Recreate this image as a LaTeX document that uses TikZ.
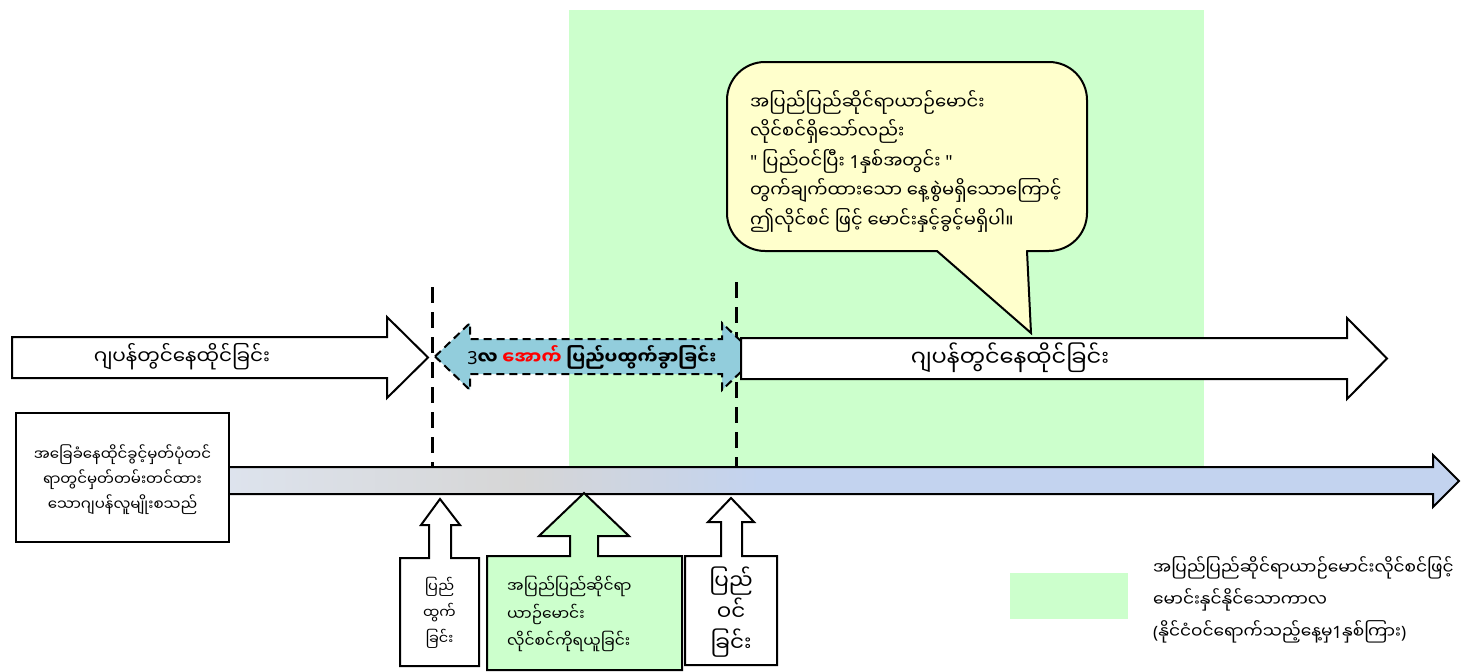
\documentclass[tikz,border=0pt]{standalone}
\usepackage{fontspec}
\setmainfont{Noto Sans Myanmar UI}[Script=Myanmar]
\newfontfamily\lat{Noto Sans}
\definecolor{bggreen}{HTML}{CCFFCC}
\definecolor{bubbleyellow}{HTML}{FFFFCC}
\definecolor{arrowblue}{HTML}{92CDDC}
\definecolor{tlA}{HTML}{DDE3ED}
\definecolor{tlB}{HTML}{D6D6D6}
\definecolor{tlC}{HTML}{C3D3EF}
\definecolor{txtred}{HTML}{FF0000}
\begin{document}
\begin{tikzpicture}[x=1pt,y=-1pt,
  outl/.style={draw=black,line width=2pt,line join=miter},
  guide/.style={draw=black,line width=3pt,dash pattern=on 16pt off 9pt},
  dashedarrow/.style={draw=black,line width=2pt,dash pattern=on 8pt off 5pt,fill=arrowblue},
  lbl/.style={inner sep=0pt,text=black},
]
\useasboundingbox (0,0) rectangle (1473,672);
\fill[white] (0,0) rectangle (1473,672);

% green period background
\fill[bggreen] (569,10) rectangle (1204,468);

% speech bubble
\filldraw[fill=bubbleyellow,draw=black,line width=2pt,rounded corners=38pt] (727,62) rectangle (1087,251);
\fill[bubbleyellow] (938.5,249.5) -- (1025.5,249.5) -- (1027,252) -- (1031,333) -- (937,252) -- cycle;
\draw[line width=2pt,line join=miter,miter limit=20] (937,251) -- (1031,333) -- (1027,251);
\node[lbl,anchor=west,align=left,font={\fontsize{18}{29.5}\selectfont}] (bubbletxt) at (750,161)
 {အပြည်ပြည်ဆိုင်ရာယာဉ်မောင်း\\
  လိုင်စင်ရှိသော်လည်း\\
  {\lat"} ပြည်ဝင်ပြီး {\lat 1}နှစ်အတွင်း {\lat"}\\
  တွက်ချက်ထားသော နေ့စွဲမရှိသောကြောင့်\\
  ဤလိုင်စင် ဖြင့် မောင်းနှင့်ခွင့်မရှိပါ။};

% dashed guide lines
\coordinate (g1a) at (432,287); \coordinate (g1b) at (432,468);
\coordinate (g2a) at (736,282); \coordinate (g2b) at (736,468);
\draw[guide] (g1a) -- (g1b);
\draw[guide] (g2a) -- (g2b);

% left white arrow
\filldraw[outl,fill=white] (12,337) -- (387,337) -- (387,317) -- (428,357.5) -- (387,398) -- (387,378) -- (12,378) -- cycle;
\node[lbl,font={\fontsize{20}{24}\selectfont}] (liveA) at (182,357) {ဂျပန်တွင်နေထိုင်ခြင်း};

% blue dashed double arrow
\filldraw[dashedarrow] (435,356.5) -- (470,323) -- (470,339) -- (722,339) -- (722,323) -- (757,356.5) -- (722,390) -- (722,374) -- (470,374) -- (470,390) -- cycle;
\node[lbl,font={\fontsize{18}{22}\selectfont\bfseries}] (abroad) at (592,357) {{\lat 3}လ \textcolor{txtred}{အောက်} ပြည်ပထွက်ခွာခြင်း};

% right white arrow
\filldraw[outl,fill=white] (741,338) -- (1347,338) -- (1347,318) -- (1387,358.5) -- (1347,399) -- (1347,379) -- (741,379) -- cycle;
\node[lbl,font={\fontsize{22.5}{26}\selectfont}] (liveB) at (1010,358) {ဂျပန်တွင်နေထိုင်ခြင်း};

% timeline bar
\shade[left color=tlA,right color=tlB] (229,467) rectangle (520,494);
\shade[left color=tlB,right color=tlC] (519.5,467) rectangle (760,494);
\fill[tlC] (759.5,467) rectangle (1434,494);
\fill[tlC] (1433,455) -- (1459,481) -- (1433,507) -- cycle;
\draw[outl] (229,467) -- (1433,467) -- (1433,455) -- (1459,481) -- (1433,507) -- (1433,494) -- (229,494);

% left box
\filldraw[outl,fill=white] (16,413) rectangle (229,542);
\node[lbl,align=center,font={\fontsize{15}{25}\selectfont}] (who) at (122.5,480)
 {အခြေခံနေထိုင်ခွင့်မှတ်ပုံတင်\\ရာတွင်မှတ်တမ်းတင်ထား\\သောဂျပန်လူမျိုးစသည်};

% bottom up-arrows
\filldraw[outl,fill=white] (400,666) -- (400,558) -- (429,558) -- (429,525) -- (421,525) -- (440,499) -- (460,525) -- (451,525) -- (451,558) -- (479,558) -- (479,666) -- cycle;
\node[lbl,align=center,font={\fontsize{14.5}{26}\selectfont}] (depart) at (439.5,613)
 {ပြည်\\ထွက်\\ခြင်း};

\filldraw[outl,fill=bggreen] (487,670) -- (487,556) -- (570,556) -- (570,536) -- (539,536) -- (584,493) -- (629,536) -- (598,536) -- (598,556) -- (682,556) -- (682,670) -- cycle;
\node[lbl,anchor=west,align=left,font={\fontsize{15.5}{27.5}\selectfont}] (obtain) at (507,614)
 {အပြည်ပြည်ဆိုင်ရာ\\ယာဉ်မောင်း\\လိုင်စင်ကိုရယူခြင်း};

\filldraw[outl,fill=white] (685,665) -- (685,556) -- (721,556) -- (721,522) -- (708,522) -- (731,498) -- (754,522) -- (742,522) -- (742,556) -- (777,556) -- (777,665) -- cycle;
\node[lbl,align=center,font={\fontsize{21.5}{31}\selectfont}] (enter) at (731,612)
 {ပြည်\\ဝင်\\ခြင်း};

% legend
\fill[bggreen] (1010,573) rectangle (1128,619);
\node[lbl,anchor=west,align=left,font={\fontsize{17}{32}\selectfont}] (legendtxt) at (1153,600)
 {အပြည်ပြည်ဆိုင်ရာယာဉ်မောင်းလိုင်စင်ဖြင့်\\
  မောင်းနှင်နိုင်သောကာလ\\
  {\lat(}နိုင်ငံဝင်ရောက်သည့်နေ့မှ{\lat 1}နှစ်ကြား{\lat)}};
\end{tikzpicture}
\end{document}
